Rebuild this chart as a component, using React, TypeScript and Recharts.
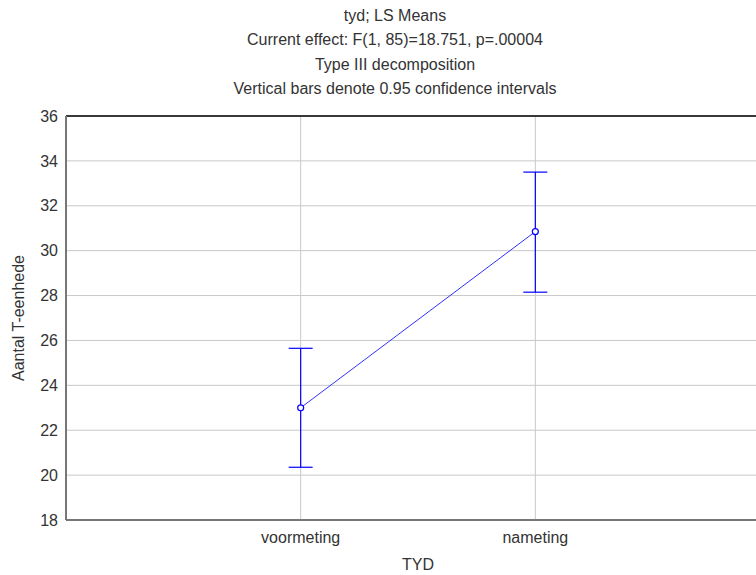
import React from "react";
import {
  LineChart,
  Line,
  XAxis,
  YAxis,
  CartesianGrid,
  ErrorBar,
  ReferenceLine,
} from "recharts";

const categories = ["voormeting", "nameting"];
const means = [23.0, 30.85];
const ciLower = [20.35, 28.15];
const ciUpper = [25.65, 33.5];
const yTicks = [18, 20, 22, 24, 26, 28, 30, 32, 34, 36];
const titleLines = [
  "tyd; LS Means",
  "Current effect: F(1, 85)=18.751, p=.00004",
  "Type III decomposition",
  "Vertical bars denote 0.95 confidence intervals",
];

const data = categories.map((name, i) => ({
  pos: i + 1,
  name,
  mean: means[i],
  err: [means[i] - ciLower[i], ciUpper[i] - means[i]],
}));

const FONT = '"Liberation Sans", Arial, sans-serif';
const TEXT = "#333";

export default function App() {
  return (
    <div
      style={{
        position: "absolute",
        left: 0,
        top: 0,
        width: 756,
        height: 575,
        overflow: "hidden",
        background: "#fff",
        fontFamily: FONT,
      }}
    >
      <div
        style={{
          position: "absolute",
          left: 0,
          top: 4,
          width: 790,
          textAlign: "center",
          fontSize: 16,
          lineHeight: "24.3px",
          color: TEXT,
        }}
      >
        {titleLines.map((t) => (
          <div key={t}>{t}</div>
        ))}
      </div>
      <LineChart
        width={790}
        height={575}
        data={data}
        margin={{ top: 116, right: 20, bottom: 0, left: 0 }}
        style={{ position: "absolute", left: 0, top: 0 }}
      >
        <CartesianGrid stroke="#c8c8c8" strokeWidth={1} />
        <XAxis
          dataKey="pos"
          type="number"
          domain={[0, 3]}
          ticks={[1, 2]}
          tickFormatter={(v: number) => categories[v - 1] ?? ""}
          height={55}
          tickLine={false}
          axisLine={{ stroke: "#777", strokeWidth: 2 }}
          tick={{ fill: TEXT, fontSize: 16, fontFamily: FONT, dy: 4 }}
          label={{
            value: "TYD",
            position: "center",
            dy: 17,
            fill: TEXT,
            fontSize: 16,
            fontFamily: FONT,
          }}
        />
        <YAxis
          type="number"
          domain={[18, 36]}
          ticks={yTicks}
          width={66}
          tickLine={false}
          axisLine={{ stroke: "#777", strokeWidth: 2 }}
          tick={{ fill: TEXT, fontSize: 16, fontFamily: FONT }}
          label={{
            value: "Aantal T-eenhede",
            angle: -90,
            position: "center",
            dx: -15,
            fill: TEXT,
            fontSize: 16,
            fontFamily: FONT,
          }}
        />
        <ReferenceLine y={36} stroke="#000" strokeWidth={1.5} />
        <Line
          dataKey="mean"
          stroke="#3030ff"
          strokeWidth={1}
          isAnimationActive={false}
          dot={{ r: 3, fill: "#fff", stroke: "#0000ff", strokeWidth: 1.2 }}
          activeDot={false}
        >
          <ErrorBar
            dataKey="err"
            direction="y"
            width={12}
            stroke="#0000ff"
            strokeWidth={1.2}
            isAnimationActive={false}
          />
        </Line>
      </LineChart>
    </div>
  );
}
